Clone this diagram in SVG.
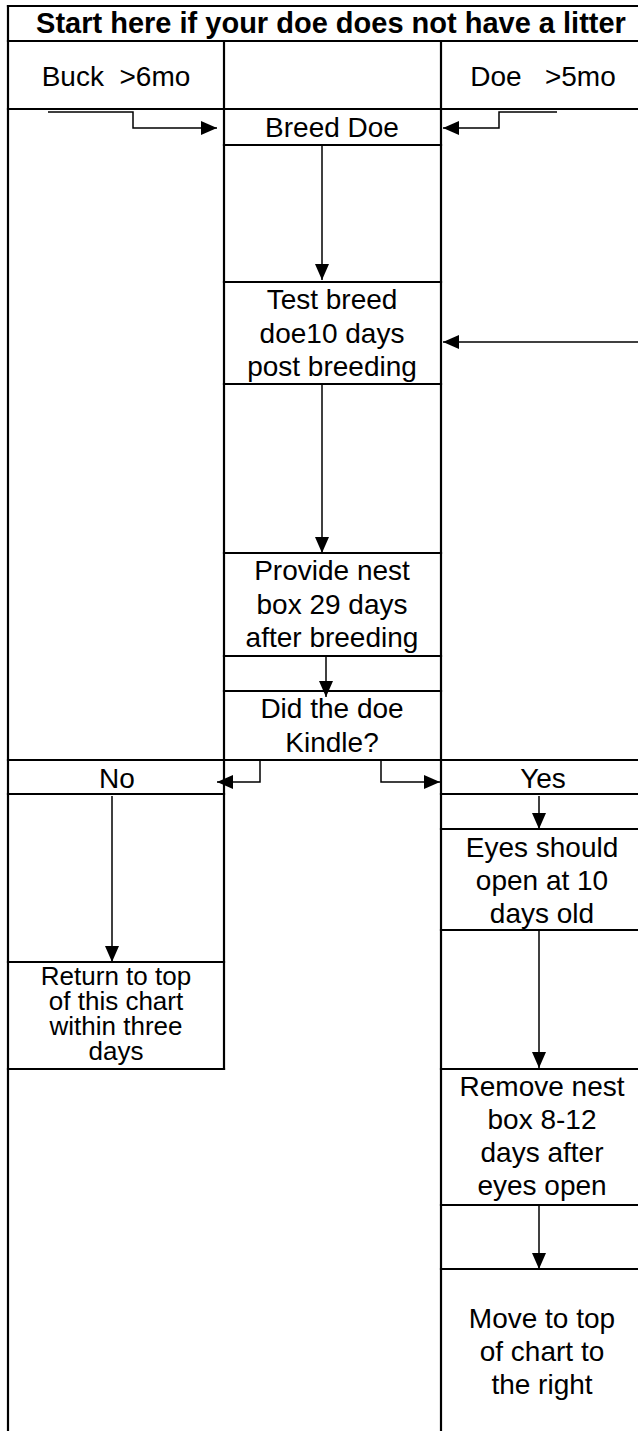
<svg xmlns="http://www.w3.org/2000/svg" width="638" height="1431" viewBox="0 0 638 1431">
<defs>
<style>
.grid{stroke:#000;stroke-width:2.2;fill:none;stroke-linecap:square}
.con{stroke:#000;stroke-width:1.5;fill:none}
.t{font-family:"Liberation Sans",Arial,sans-serif;font-size:28px;fill:#000;text-anchor:middle}
.title{font-family:"Liberation Sans",Arial,sans-serif;font-size:29px;font-weight:bold;fill:#000;text-anchor:middle}
</style>
<marker id="ah" markerUnits="userSpaceOnUse" markerWidth="16" markerHeight="14" refX="16" refY="7" orient="auto">
<path d="M0,0 L16,7 L0,14 z" fill="#000"/>
</marker>
</defs>
<rect width="638" height="1431" fill="#fff"/>
<g id="grid" class="grid">
<path d="M8,6 V1431 M224,41 V1069 M441,41 V1431"/>
<path d="M8,6 H650 M8,41 H650 M8,109 H650 M224,145 H441 M224,282 H441 M224,384 H441 M224,553 H441 M224,656 H441 M224,691 H441 M8,760 H650 M8,794 H224 M441,794 H650 M441,829 H650 M441,930 H650 M8,962 H224 M8,1069 H224 M441,1069 H650 M441,1205 H650 M441,1269 H650"/>
</g>
<g id="title"><text class="title" x="331" y="33">Start here if your doe does not have a litter</text></g>
<g id="buck"><text class="t" x="116" y="86" xml:space="preserve">Buck  &gt;6mo</text></g>
<g id="doe"><text class="t" x="543" y="86" xml:space="preserve">Doe   &gt;5mo</text></g>
<g id="breed"><text class="t" x="332" y="137">Breed Doe</text></g>
<g id="test"><text class="t" x="332" y="309">Test breed</text><text class="t" x="332" y="343">doe10 days</text><text class="t" x="332" y="376">post breeding</text></g>
<g id="nest"><text class="t" x="332" y="580">Provide nest</text><text class="t" x="332" y="614">box 29 days</text><text class="t" x="332" y="647">after breeding</text></g>
<g id="kindle"><text class="t" x="332" y="718">Did the doe</text><text class="t" x="332" y="752">Kindle?</text></g>
<g id="no"><text class="t" x="117" y="788">No</text></g>
<g id="yes"><text class="t" x="543" y="788">Yes</text></g>
<g id="eyes"><text class="t" x="542" y="857">Eyes should</text><text class="t" x="542" y="890">open at 10</text><text class="t" x="542" y="923">days old</text></g>
<g id="return" style="font-size:26px"><text class="t" x="116" y="985" style="font-size:26px">Return to top</text><text class="t" x="116" y="1010" style="font-size:26px">of this chart</text><text class="t" x="116" y="1035" style="font-size:26px">within three</text><text class="t" x="116" y="1060" style="font-size:26px">days</text></g>
<g id="remove"><text class="t" x="542" y="1096">Remove nest</text><text class="t" x="542" y="1129">box 8-12</text><text class="t" x="542" y="1162">days after</text><text class="t" x="542" y="1195">eyes open</text></g>
<g id="move"><text class="t" x="542" y="1328">Move to top</text><text class="t" x="542" y="1361">of chart to</text><text class="t" x="542" y="1394">the right</text></g>
<g id="connectors" class="con">
<path d="M48,112 H133 V128 H217" marker-end="url(#ah)"/>
<path d="M557,112 H499 V128 H443" marker-end="url(#ah)"/>
<path d="M322,145 V280" marker-end="url(#ah)"/>
<path d="M322,384 V553" marker-end="url(#ah)"/>
<path d="M326,656 V697" marker-end="url(#ah)"/>
<path d="M650,342 H443" marker-end="url(#ah)"/>
<path d="M260,760 V782 H217" marker-end="url(#ah)"/>
<path d="M381,760 V782 H440" marker-end="url(#ah)"/>
<path d="M112,796 V962" marker-end="url(#ah)"/>
<path d="M539,796 V829" marker-end="url(#ah)"/>
<path d="M539,930 V1068" marker-end="url(#ah)"/>
<path d="M539,1205 V1269" marker-end="url(#ah)"/>
</g>
</svg>
